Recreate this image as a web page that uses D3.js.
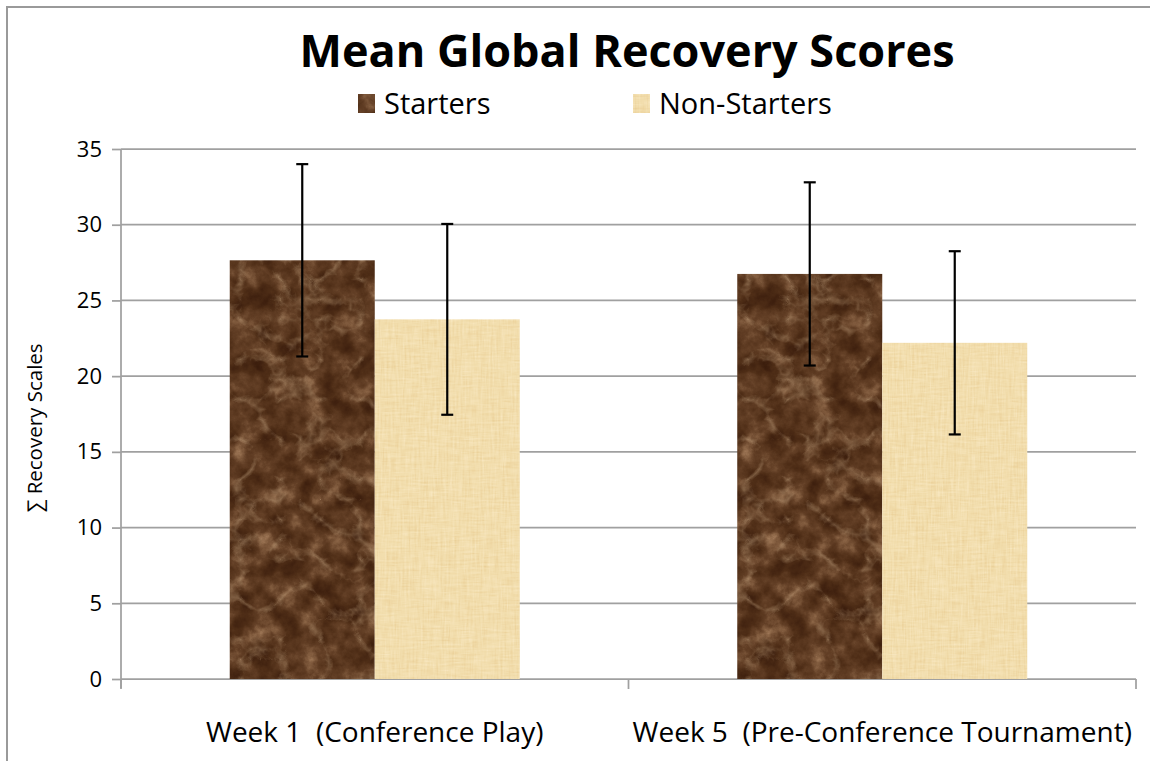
<!DOCTYPE html>
<html>
<head>
<meta charset="utf-8">
<script src="https://cdn.jsdelivr.net/npm/d3@7"></script>
<style>
  html, body { margin: 0; padding: 0; background: #fff; }
  svg text { font-family: "Open Sans", "Noto Sans", sans-serif; fill: #000; }
</style>
</head>
<body>
<svg id="chart" width="1150" height="761"></svg>
<script>
// ---- data ----
const categories = ["Week 1  (Conference Play)", "Week 5  (Pre-Conference Tournament)"];
const seriesNames = ["Starters", "Non-Starters"];
const starters = [27.65, 26.75];
const nonStarters = [23.75, 22.2];
const startersErr = [6.35, 6.05];
const nonStartersErr = [6.3, 6.05];
const yTicks = [0, 5, 10, 15, 20, 25, 30, 35];
const title = "Mean Global Recovery Scores";
const yTitle = "\u2211 Recovery Scales";

const svg = d3.select("#chart");
const W = 1150, H = 761;
const plot = { left: 121, right: 1136, top: 149, bottom: 679 };

// ---- textures ----
const defs = svg.append("defs");
function colorize(f, src, r, g, b, res) {
  f.append("feColorMatrix").attr("in", src).attr("type", "matrix")
    .attr("values", "1 0 0 0 0  1 0 0 0 0  1 0 0 0 0  0 0 0 0 1").attr("result", src + "g");
  const ct = f.append("feComponentTransfer").attr("in", src + "g").attr("result", res);
  ct.append("feFuncR").attr("type", "table").attr("tableValues", r);
  ct.append("feFuncG").attr("type", "table").attr("tableValues", g);
  ct.append("feFuncB").attr("type", "table").attr("tableValues", b);
}
// marble: mottled base + light ridged veins
(function () {
  const f = defs.append("filter").attr("id", "marble")
    .attr("x", 0).attr("y", 0).attr("width", 1).attr("height", 1)
    .attr("color-interpolation-filters", "sRGB");
  f.append("feTurbulence").attr("type", "fractalNoise").attr("baseFrequency", "0.045")
    .attr("numOctaves", 6).attr("seed", 7).attr("result", "n1");
  colorize(f, "n1",
    "0.20 0.25 0.31 0.39 0.54 0.74",
    "0.09 0.13 0.18 0.25 0.39 0.58",
    "0.03 0.06 0.09 0.15 0.27 0.44", "base");
  f.append("feTurbulence").attr("type", "turbulence").attr("baseFrequency", "0.025")
    .attr("numOctaves", 4).attr("seed", 11).attr("result", "n2");
  f.append("feColorMatrix").attr("in", "n2").attr("type", "matrix")
    .attr("values", "0 0 0 0 0.76  0 0 0 0 0.64  0 0 0 0 0.50  -3 0 0 0 0.75").attr("result", "veins");
  f.append("feComponentTransfer").attr("in", "veins").attr("result", "veins2")
    .append("feFuncA").attr("type", "linear").attr("slope", 0.6).attr("intercept", 0);
  f.append("feMerge").attr("result", "mm").call(m => {
    m.append("feMergeNode").attr("in", "base");
    m.append("feMergeNode").attr("in", "veins2");
  });
  f.append("feComposite").attr("in", "mm").attr("in2", "SourceGraphic").attr("operator", "in");
})();
// papyrus: cross-hatched fibres
(function () {
  const f = defs.append("filter").attr("id", "papyrus")
    .attr("x", 0).attr("y", 0).attr("width", 1).attr("height", 1)
    .attr("color-interpolation-filters", "sRGB");
  f.append("feTurbulence").attr("type", "fractalNoise").attr("baseFrequency", "0.05 0.5")
    .attr("numOctaves", 3).attr("seed", 4).attr("result", "h");
  f.append("feTurbulence").attr("type", "fractalNoise").attr("baseFrequency", "0.5 0.04")
    .attr("numOctaves", 3).attr("seed", 9).attr("result", "v");
  f.append("feComposite").attr("in", "h").attr("in2", "v").attr("operator", "arithmetic")
    .attr("k1", 0).attr("k2", 0.5).attr("k3", 0.5).attr("k4", 0).attr("result", "hv");
  colorize(f, "hv",
    "0.90 0.93 0.95 0.97 0.99",
    "0.79 0.83 0.87 0.90 0.93",
    "0.56 0.62 0.68 0.74 0.80", "col");
  f.append("feComposite").attr("in", "col").attr("in2", "SourceGraphic").attr("operator", "in");
})();
const fills = { "Starters": "url(#marble)", "Non-Starters": "url(#papyrus)" };

// ---- chart border ----
svg.append("rect").attr("x", 7).attr("y", 7).attr("width", W + 20).attr("height", H + 20)
  .attr("fill", "#fff").attr("stroke", "#9a9a9a").attr("stroke-width", 2);

// ---- scales ----
const y = d3.scaleLinear().domain([0, 35]).range([plot.bottom, plot.top]);
const x0 = d3.scaleBand().domain(categories).range([plot.left, plot.right]).paddingInner(0).paddingOuter(0);
const x1 = d3.scaleBand().domain(seriesNames).range([0, x0.bandwidth()]).paddingInner(0).paddingOuter(0.75);

// ---- gridlines ----
svg.append("g").selectAll("line").data(yTicks).join("line")
  .attr("x1", plot.left).attr("x2", plot.right)
  .attr("y1", d => y(d)).attr("y2", d => y(d))
  .attr("stroke", "#a0a0a0").attr("stroke-width", 1.75);

// ---- y axis ----
const yAxis = svg.append("g").attr("transform", `translate(${plot.left},0)`)
  .call(d3.axisLeft(y).tickValues(yTicks).tickSize(9).tickSizeOuter(0).tickPadding(10));
yAxis.select(".domain").attr("stroke", "#a0a0a0").attr("stroke-width", 1.75)
  .attr("d", `M0,${plot.top}V${plot.bottom + 9}`);
yAxis.selectAll(".tick line").attr("stroke", "#a0a0a0").attr("stroke-width", 1.75);
yAxis.selectAll(".tick text").attr("font-size", 22).attr("font-family", "'Open Sans'").attr("fill", "#000");

// ---- x axis ----
const xTickPos = categories.map(c => x0(c)).concat([plot.right]);
svg.append("g").selectAll("line").data(xTickPos).join("line")
  .attr("x1", d => d).attr("x2", d => d)
  .attr("y1", plot.bottom).attr("y2", plot.bottom + 10)
  .attr("stroke", "#a0a0a0").attr("stroke-width", 1.75);
svg.append("g").selectAll("text").data(categories).join("text")
  .attr("x", d => x0(d) + x0.bandwidth() / 2).attr("y", 742)
  .attr("text-anchor", "middle").attr("font-size", 28)
  .style("white-space", "pre").text(d => d);

// ---- bars ----
const rows = categories.map((c, i) => ({
  cat: c,
  vals: [
    { s: "Starters", v: starters[i], e: startersErr[i] },
    { s: "Non-Starters", v: nonStarters[i], e: nonStartersErr[i] }
  ]
}));
const groups = svg.append("g").selectAll("g").data(rows).join("g")
  .attr("transform", d => `translate(${x0(d.cat)},0)`);
groups.selectAll("rect").data(d => d.vals).join("rect")
  .attr("x", d => x1(d.s)).attr("width", x1.bandwidth())
  .attr("y", d => y(d.v)).attr("height", d => y(0) - y(d.v))
  .attr("fill", "#000").attr("filter", d => fills[d.s]);

// ---- error bars ----
const eb = groups.selectAll("g.err").data(d => d.vals).join("g").attr("class", "err");
eb.append("line")
  .attr("x1", d => x1(d.s) + x1.bandwidth() / 2).attr("x2", d => x1(d.s) + x1.bandwidth() / 2)
  .attr("y1", d => y(d.v + d.e)).attr("y2", d => y(d.v - d.e))
  .attr("stroke", "#000").attr("stroke-width", 2.2);
eb.selectAll("line.cap").data(d => [{ d, t: d.v + d.e }, { d, t: d.v - d.e }]).join("line")
  .attr("class", "cap")
  .attr("x1", o => x1(o.d.s) + x1.bandwidth() / 2 - 6).attr("x2", o => x1(o.d.s) + x1.bandwidth() / 2 + 6)
  .attr("y1", o => y(o.t)).attr("y2", o => y(o.t))
  .attr("stroke", "#000").attr("stroke-width", 2.2);

// ---- title ----
svg.append("text").attr("x", 627).attr("y", 67).attr("text-anchor", "middle")
  .attr("font-size", 45).attr("font-weight", "bold").text(title);

// ---- legend ----
const legendX = [358, 633];
const lg = svg.append("g").selectAll("g").data(seriesNames).join("g")
  .attr("transform", (d, i) => `translate(${legendX[i]},0)`);
lg.append("rect").attr("x", 0).attr("y", 94).attr("width", 17).attr("height", 19)
  .attr("fill", "#000").attr("filter", d => fills[d]);
lg.append("text").attr("x", 26).attr("y", 114).attr("font-size", 29).text(d => d);

// ---- y title ----
svg.append("text").attr("transform", "translate(42,428) rotate(-90)")
  .attr("text-anchor", "middle").attr("font-size", 20.5).text(yTitle);
</script>
</body>
</html>
